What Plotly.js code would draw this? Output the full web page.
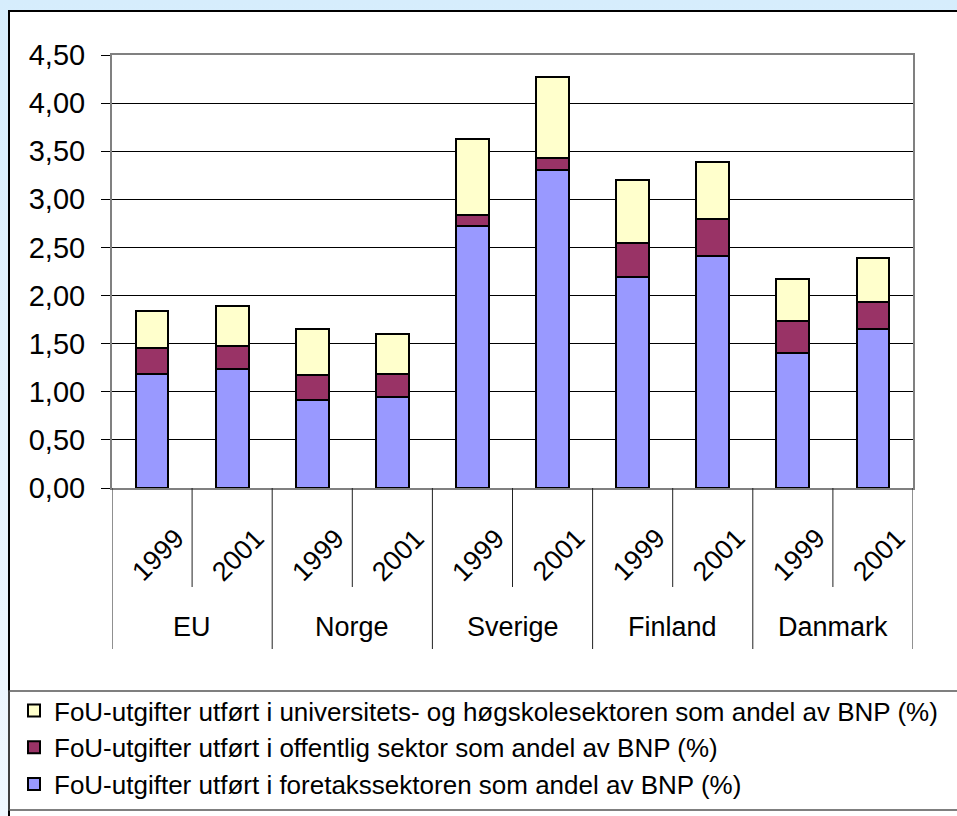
<!DOCTYPE html>
<html>
<head>
<meta charset="utf-8">
<script src="https://cdn.plot.ly/plotly-3.0.1.min.js"></script>
<style>
  html, body { margin:0; padding:0; width:957px; height:816px; overflow:hidden;
    background: linear-gradient(to bottom, #d6edfc 0%, #e6f3fd 60%, #f0f8ff 100%); }
  #chart { width:957px; height:816px; }
</style>
</head>
<body>
<div id="chart"></div>
<script>
// ---- data ----
const groups = ['EU', 'Norge', 'Sverige', 'Finland', 'Danmark'];
const years = ['1999', '2001'];
const categories = ['EU 1999', 'EU 2001', 'Norge 1999', 'Norge 2001', 'Sverige 1999', 'Sverige 2001',
                    'Finland 1999', 'Finland 2001', 'Danmark 1999', 'Danmark 2001'];
const foretak   = [1.19, 1.24, 0.91, 0.95, 2.72, 3.31, 2.19, 2.41, 1.40, 1.65];
const offentlig = [0.27, 0.24, 0.26, 0.24, 0.12, 0.12, 0.36, 0.39, 0.34, 0.28];
const uh        = [0.38, 0.41, 0.48, 0.41, 0.79, 0.84, 0.65, 0.59, 0.43, 0.46];
const seriesNames = [
  'FoU-utgifter utført i foretakssektoren som andel av BNP (%)',
  'FoU-utgifter utført i offentlig sektor som andel av BNP (%)',
  'FoU-utgifter utført i universitets- og høgskolesektoren som andel av BNP (%)'
];
const yTicks = [0, 0.5, 1, 1.5, 2, 2.5, 3, 3.5, 4, 4.5];

// ---- geometry helpers (pixel -> paper) ----
const L = 112, R = 913, T = 55, B = 488, W = 957, H = 816;
const px = v => (v - L) / (R - L);
const py = v => (B - v) / (B - T);

const font = 'Arial, "Liberation Sans", sans-serif';
const line = {color: '#000000', width: 2};

const traces = [
  {type: 'bar', name: seriesNames[0], x: categories, y: foretak, marker: {color: '#9999ff', line: line}},
  {type: 'bar', name: seriesNames[1], x: categories, y: offentlig, marker: {color: '#993366', line: line}},
  {type: 'bar', name: seriesNames[2], x: categories, y: uh, marker: {color: '#ffffcc', line: line}}
];

const shapes = [];
// white chart box
shapes.push({type: 'rect', xref: 'paper', yref: 'paper', layer: 'below',
  x0: px(9), x1: px(965), y0: py(11), y1: py(830),
  fillcolor: '#ffffff', line: {color: '#000000', width: 2}});
// legend box
shapes.push({type: 'rect', xref: 'paper', yref: 'paper', layer: 'below',
  x0: px(9), x1: px(965), y0: py(691), y1: py(810),
  fillcolor: 'rgba(0,0,0,0)', line: {color: '#555555', width: 1.5}});
// category dividers
for (let i = 0; i <= categories.length; i++) {
  const isGroup = (i % years.length === 0);
  shapes.push({type: 'line', xref: 'x', yref: 'paper', x0: i - 0.5, x1: i - 0.5,
    y0: 0, y1: py(isGroup ? 649 : 587), line: {color: '#222222', width: 1}});
}

const annotations = [];
categories.forEach((c, i) => {
  annotations.push({xref: 'x', yref: 'paper', x: i, y: py(555), xshift: 6,
    text: years[i % years.length], showarrow: false, textangle: -45,
    xanchor: 'center', yanchor: 'middle', font: {family: font, size: 27, color: '#000'}});
});
groups.forEach((g, k) => {
  annotations.push({xref: 'x', yref: 'paper', x: k * years.length + 0.5, y: py(627),
    text: g, showarrow: false, xanchor: 'center', yanchor: 'middle',
    font: {family: font, size: 27, color: '#000'}});
});

const layout = {
  width: W, height: H,
  margin: {l: L, r: W - R, t: T, b: H - B, pad: 0, autoexpand: false},
  paper_bgcolor: 'rgba(0,0,0,0)',
  plot_bgcolor: '#c0c0c0',
  barmode: 'stack',
  bargap: 0.59,
  separators: ', ',
  font: {family: font, color: '#000'},
  showlegend: true,
  legend: {x: px(14), y: py(687),
    xanchor: 'left', yanchor: 'top', traceorder: 'reversed',
    bgcolor: 'rgba(0,0,0,0)', font: {family: font, size: 26, color: '#000'},
    itemwidth: 30, tracegroupgap: 0},
  xaxis: {type: 'category', range: [-0.5, categories.length - 0.5], showticklabels: false,
    ticks: '', showgrid: false, zeroline: false, showline: true, linecolor: '#808080',
    linewidth: 2, mirror: true, fixedrange: true},
  yaxis: {range: [0, 4.5], tickvals: yTicks, tickformat: '.2f', ticks: 'outside',
    ticklen: 9, tickcolor: '#000', tickwidth: 1, ticklabelstandoff: 10,
    tickfont: {family: font, size: 29, color: '#000'},
    showgrid: true, gridcolor: '#000000', gridwidth: 1, zeroline: false,
    showline: true, linecolor: '#808080', linewidth: 2, mirror: true, fixedrange: true},
  shapes: shapes,
  annotations: annotations
};

Plotly.newPlot('chart', traces, layout, {displayModeBar: false, staticPlot: true});
</script>
</body>
</html>
